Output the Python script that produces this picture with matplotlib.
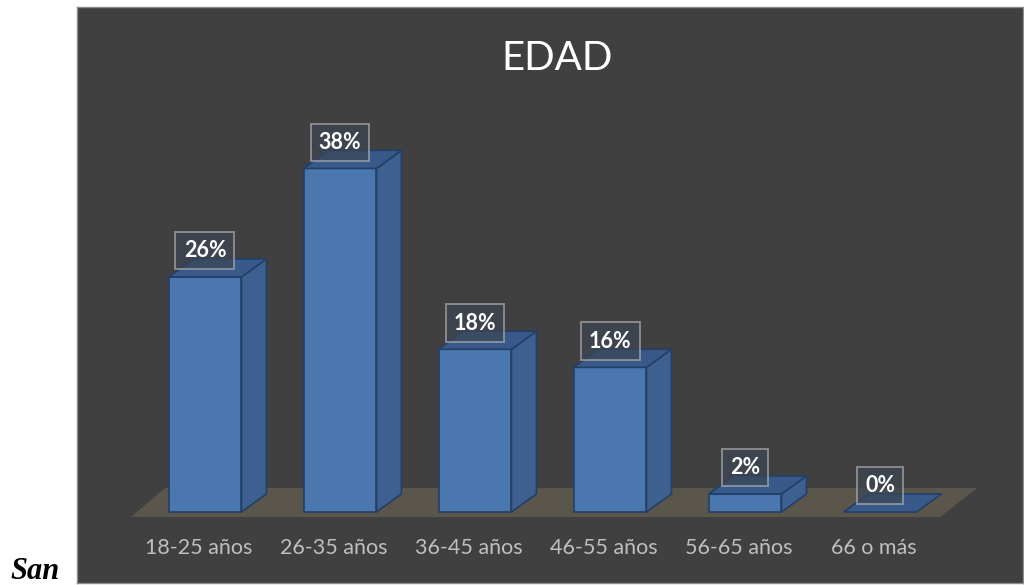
import matplotlib
matplotlib.use('Agg')
import matplotlib.pyplot as plt
from matplotlib.patches import Polygon

categories = ['18-25 años', '26-35 años', '36-45 años', '46-55 años', '56-65 años', '66 o más']
values = [26, 38, 18, 16, 2, 0]
labels = ['26%', '38%', '18%', '16%', '2%', '0%']
title = 'EDAD'

# colours
front_col = '#4a77ae'
side_col = '#3d6090'
top_col = '#38598a'
edge_col = '#243f66'
floor_col = '#5a564c'
panel_col = '#404040'

fig = plt.figure(figsize=(10.24, 5.85), dpi=100)
fig.patch.set_facecolor('white')
ax = fig.add_axes([77/1024, 2/585, 946/1024, 576/585])
ax.set_facecolor(panel_col)
ax.set_xlim(-0.948, 6.059)
ax.set_ylim(-7.85, 55.86)
ax.set_xticks([])
ax.set_yticks([])
for s in ax.spines.values():
    s.set_color('#8c8c8c')
    s.set_linewidth(1)

# floor of the 3d chart
floor = Polygon([(-0.548, -0.55), (5.444, -0.55), (5.72, 2.65), (-0.296, 2.65)],
                closed=True, fc=floor_col, ec='none', zorder=1)
ax.add_patch(floor)

w = 0.54      # bar width
dx = 0.185    # depth in x
dy = 2.0      # depth in y

for i, v in enumerate(values):
    x0 = i - w/2
    x1 = i + w/2
    if v > 0:
        side = Polygon([(x1, 0), (x1+dx, dy), (x1+dx, v+dy), (x1, v)],
                       closed=True, fc=side_col, ec=edge_col, lw=1.2, zorder=2)
        ax.add_patch(side)
        front = Polygon([(x0, 0), (x1, 0), (x1, v), (x0, v)],
                        closed=True, fc=front_col, ec=edge_col, lw=1.2, zorder=3)
        ax.add_patch(front)
    top = Polygon([(x0, v), (x1, v), (x1+dx, v+dy), (x0+dx, v+dy)],
                  closed=True, fc=top_col, ec=edge_col, lw=1.2, zorder=3)
    ax.add_patch(top)

    ax.text(i, v + 2.9, labels[i], ha='center', va='center', color='white',
            fontsize=15.5, fontweight='bold', family=['Lato', 'DejaVu Sans'], zorder=5,
            bbox=dict(boxstyle='square,pad=0.38', fc='#3c4654', alpha=0.7,
                      ec='#b0b0b0', lw=1.3))

    ax.text(i - 0.045, -4.0, categories[i], ha='center', va='center',
            color='#bfbfbf', fontsize=15.5, family=['Lato', 'DejaVu Sans'], zorder=5)

ax.text(0.507, 0.911, title, transform=ax.transAxes, ha='center', va='center',
        color='white', fontsize=29, family=['Lato', 'DejaVu Sans'])

fig.text(10/1024, 1 - 579/585, 'San', ha='left', va='baseline', fontsize=22,
         fontweight='bold', fontstyle='italic', family=['Liberation Serif', 'DejaVu Serif'])

fig.savefig('out.png', dpi=100, facecolor=fig.get_facecolor())
